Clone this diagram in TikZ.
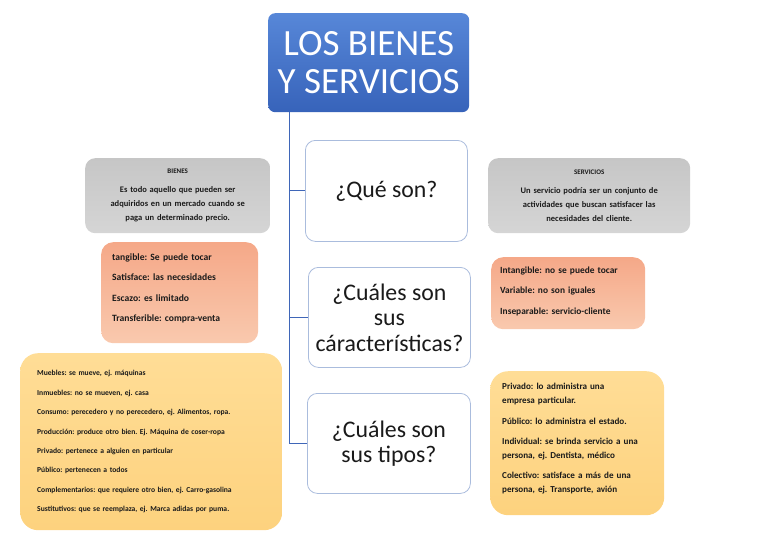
\documentclass[tikz,border=0pt]{standalone}
\usepackage{fontspec}
\setmainfont{Carlito}
\frenchspacing
\definecolor{tbTop}{HTML}{5787D8}
\definecolor{tbBot}{HTML}{3763BA}
\definecolor{qBorder}{HTML}{AABCDD}
\definecolor{grTop}{HTML}{C6C6C6}
\definecolor{grBot}{HTML}{D5D5D5}
\definecolor{saTop}{HTML}{F5A888}
\definecolor{saBot}{HTML}{F9C9AE}
\definecolor{yeTop}{HTML}{FFDD96}
\definecolor{yeBot}{HTML}{FDD27E}
\definecolor{connC}{HTML}{3F66B8}
\definecolor{txt}{HTML}{1A1A1A}
\begin{document}
\begin{tikzpicture}[x=1pt,y=-1pt,
  titlebox/.style={rounded corners=7pt, top color=tbTop, bottom color=tbBot, draw=none,
    text=white, align=center, font=\fontsize{37}{38}\selectfont, anchor=north west, inner sep=0pt},
  qbox/.style={rounded corners=10pt, draw=qBorder, line width=0.8pt, fill=white,
    align=center, font=\fontsize{23.8}{25.5}\selectfont, anchor=north west, inner sep=0pt, text=txt},
  graybox/.style={rounded corners=10pt, top color=grTop, bottom color=grBot, draw=none,
    align=center, font=\bfseries\fontsize{8.5}{14}\selectfont, anchor=north west, inner xsep=4pt, inner ysep=0pt, text=txt},
  salbox/.style={rounded corners=12pt, top color=saTop, bottom color=saBot, draw=none,
    align=left, anchor=north west, inner ysep=0pt, text=txt},
  yelbox/.style={rounded corners=18pt, top color=yeTop, bottom color=yeBot, draw=none,
    align=left, anchor=north west, inner ysep=0pt, text=txt},
  conn/.style={draw=connC, line width=1pt}
]
\useasboundingbox (0,0) rectangle (768,543);

\node[titlebox, minimum width=201, minimum height=99] (title) at (268,13) {LOS BIENES\\Y SERVICIOS};

\node[qbox, minimum width=162, minimum height=101] (q1) at (305,140) {¿Qué son?};
\node[qbox, minimum width=162, minimum height=100] (q2) at (308,267) {¿Cuáles son\\sus\\cáracterísticas?};
\node[qbox, minimum width=163, minimum height=100] (q3) at (307,393) {¿Cuáles son\\sus tipos?};

\draw[conn] (title.south west) ++(21,0) coordinate (trunk) -- (trunk |- q3.west) -- (q3.west);
\draw[conn] (trunk |- q1.west) -- (q1.west);
\draw[conn] (trunk |- q2.west) -- (q2.west);

\node[graybox, minimum width=185, minimum height=75, text width=177] (bienes) at (85,158)
  {{\fontsize{7}{8}\selectfont BIENES}\\[5pt]Es todo aquello que pueden ser\\adquiridos en un mercado cuando se\\paga un determinado precio.};
\node[graybox, minimum width=202, minimum height=75, text width=194] (servicios) at (488,158)
  {{\fontsize{7}{8}\selectfont SERVICIOS}\\[5pt]Un servicio podría ser un conjunto de\\actividades que buscan satisfacer las\\necesidades del cliente.};

\node[salbox, minimum width=157, minimum height=101, inner xsep=11pt, text width=135,
  font=\bfseries\fontsize{9.6}{20.5}\selectfont] (tang) at (101,242)
  {tangible: Se puede tocar\\Satisface: las necesidades\\Escazo: es limitado\\Transferible: compra-venta\\[-10.5pt]\mbox{}};
\node[salbox, minimum width=154, minimum height=72, inner xsep=9pt, text width=136,
  font=\bfseries\fontsize{9.4}{20.5}\selectfont] (intang) at (491,257)
  {Intangible: no se puede tocar\\Variable: no son iguales\\Inseparable: servicio-cliente\\[-14.5pt]\mbox{}};

\node[yelbox, minimum width=262, minimum height=177, inner xsep=17pt, text width=228,
  font=\bfseries\fontsize{7.6}{19.4}\selectfont] (tiposb) at (20,353)
  {Muebles: se mueve, ej. máquinas\\
   Inmuebles: no se mueven, ej. casa\\
   Consumo: perecedero y no perecedero, ej. Alimentos, ropa.\\
   Producción: produce otro bien. Ej. Máquina de coser-ropa\\
   Privado: pertenece a alguien en particular\\
   Público: pertenecen a todos\\
   Complementarios: que requiere otro bien, ej. Carro-gasolina\\
   Sustitutivos: que se reemplaza, ej. Marca adidas por puma.};

\node[yelbox, minimum width=170, minimum height=144, inner xsep=12pt, text width=150,
  font=\bfseries\fontsize{9.1}{14}\selectfont] (tiposs) at (490,371)
  {Privado: lo administra una\\empresa particular.\\[7pt]
   Público: lo administra el estado.\\[6pt]
   Individual: se brinda servicio a una\\persona, ej. Dentista, médico\\[6pt]
   Colectivo: satisface a más de una\\persona, ej. Transporte, avión\\[-4pt]\mbox{}};
\end{tikzpicture}
\end{document}
